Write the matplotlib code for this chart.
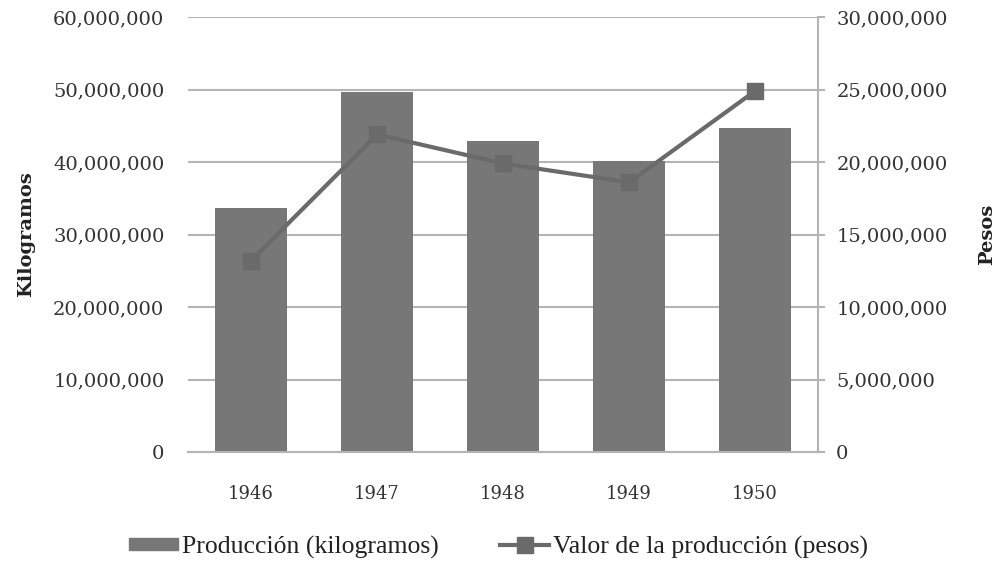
import matplotlib
matplotlib.use("Agg")
import matplotlib.pyplot as plt
from matplotlib.ticker import FuncFormatter
from matplotlib.lines import Line2D
from matplotlib.patches import Patch

# Data
years = ["1946", "1947", "1948", "1949", "1950"]
produccion_kg = [33700000, 49600000, 42900000, 40200000, 44700000]
valor_pesos = [13200000, 21900000, 19900000, 18600000, 24900000]

bar_color = "#777777"
line_color = "#6a6a6a"
grid_color = "#b4b4b4"
text_color = "#333333"

plt.rcParams["font.family"] = ["DejaVu Serif"]

fig = plt.figure(figsize=(9.97, 5.62), dpi=100)
ax = fig.add_axes([0.1886, 0.1957, 0.632, 0.774])
ax2 = ax.twinx()

x = list(range(len(years)))
ax.bar(x, produccion_kg, width=0.57, color=bar_color, zorder=2)
ax2.plot(x, valor_pesos, color=line_color, lw=3, marker="s", markersize=11,
         markerfacecolor=line_color, markeredgecolor=line_color, zorder=3)

ax.set_xlim(-0.5, len(years) - 0.5)
ax.set_ylim(0, 60000000)
ax2.set_ylim(0, 30000000)
ax.set_yticks(range(0, 60000001, 10000000))
ax2.set_yticks(range(0, 30000001, 5000000))

fmt = FuncFormatter(lambda v, p: f"{int(v):,}")
ax.yaxis.set_major_formatter(fmt)
ax2.yaxis.set_major_formatter(fmt)

ax.grid(axis="y", color=grid_color, lw=1.5, zorder=0)
ax.set_axisbelow(True)

for a in (ax, ax2):
    for s in ("top", "left", "right"):
        a.spines[s].set_visible(False)
ax.spines["bottom"].set_color(grid_color)
ax.spines["bottom"].set_linewidth(1.5)
ax2.spines["bottom"].set_visible(False)
ax2.spines["right"].set_visible(True)
ax2.spines["right"].set_color(grid_color)
ax2.spines["right"].set_linewidth(1.5)

ax.set_xticks(x)
ax.set_xticklabels(years)
ax.tick_params(axis="x", length=0, pad=24, labelsize=13, labelcolor=text_color)
ax.tick_params(axis="y", length=0, pad=17, labelsize=14, labelcolor=text_color)
ax2.tick_params(axis="y", length=5, width=1.5, color=grid_color, pad=8,
                labelsize=14, labelcolor=text_color)

ax.set_ylabel("Kilogramos", fontsize=14, fontweight="bold", color="#222222", labelpad=13)
ax2.set_ylabel("Pesos", fontsize=14, fontweight="bold", color="#222222",
               rotation=90, labelpad=22)

handles = [
    Patch(facecolor=bar_color, edgecolor=bar_color),
    Line2D([0], [0], color=line_color, lw=3, marker="s", markersize=11),
]
labels = ["Producción (kilogramos)", "Valor de la producción (pesos)"]
fig.legend(handles, labels, loc="lower center", bbox_to_anchor=(0.5, -0.035), ncol=2,
           frameon=False, prop={"family": "Liberation Serif", "size": 18.5},
           handlelength=1.9, handleheight=0.35,
           handletextpad=0.15, columnspacing=2.4, labelcolor="#222222")

fig.savefig("out.png", dpi=100)
